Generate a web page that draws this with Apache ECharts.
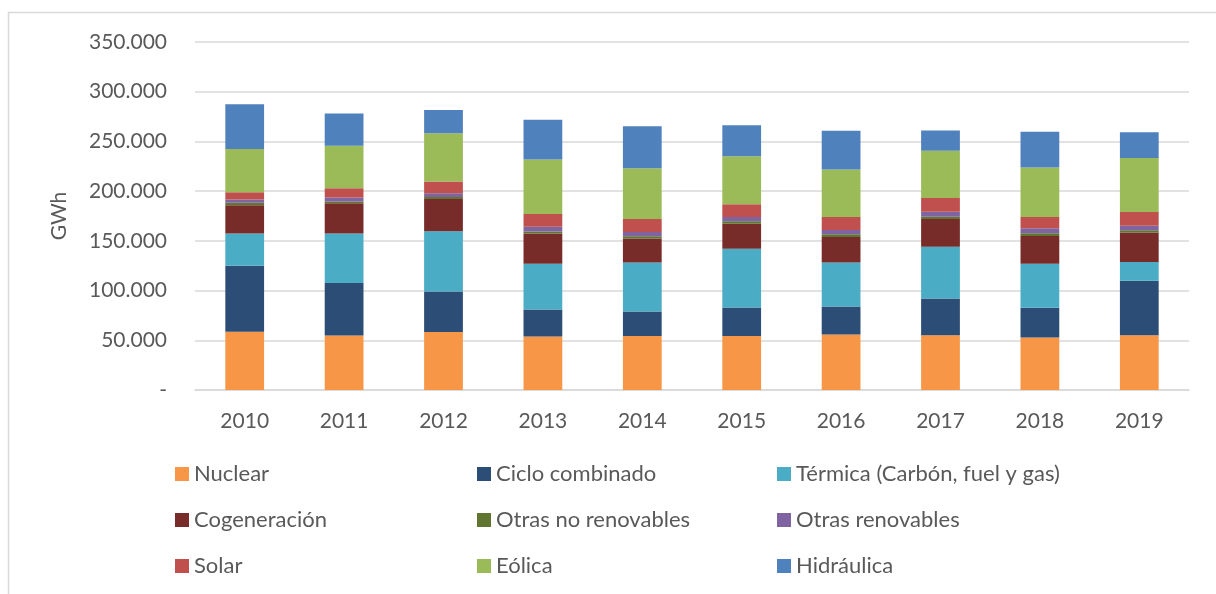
<!DOCTYPE html>
<html>
<head>
<meta charset="utf-8">
<script src="https://cdn.jsdelivr.net/npm/echarts@6/dist/echarts.min.js"></script>
<style>
  html, body { margin: 0; padding: 0; background: #fff; }
  #chart { width: 1216px; height: 594px; }
</style>
</head>
<body>
<div id="chart"></div>
<script>
// años
const years = ['2010', '2011', '2012', '2013', '2014', '2015', '2016', '2017', '2018', '2019']

// GWh por tecnología
const nuclear = [58700, 54700, 58300, 53700, 54300, 54300, 55700, 55000, 52700, 55000]
const cicloCombinado = [66300, 53000, 40700, 27300, 24700, 28700, 28300, 37000, 30000, 55000]
const termica = [32300, 49600, 60700, 46000, 49300, 59000, 44300, 52000, 44300, 18700]
const cogeneracion = [28400, 30400, 32300, 30300, 24000, 25300, 25700, 28000, 28000, 29600]
const otrasNoRenovables = [2600, 2000, 2000, 2000, 2300, 2300, 2700, 2300, 2700, 2400]
const otrasRenovables = [3400, 4000, 4000, 5000, 4300, 4300, 4300, 5000, 5000, 4600]
const solar = [7300, 9300, 11700, 12700, 13000, 13000, 13000, 13700, 11300, 13700]
const eolica = [43300, 42700, 48600, 54700, 51000, 48300, 47700, 47700, 49700, 54300]
const hidraulica = [45000, 32300, 23400, 40000, 42300, 31000, 39000, 20300, 36000, 26000]

const yTicks = [0, 50000, 100000, 150000, 200000, 250000, 300000, 350000]

const seriesList = [
  { name: 'Nuclear', data: nuclear, color: '#F79646' },
  { name: 'Ciclo combinado', data: cicloCombinado, color: '#2C4D75' },
  { name: 'Térmica (Carbón, fuel y gas)', data: termica, color: '#4BACC6' },
  { name: 'Cogeneración', data: cogeneracion, color: '#772C2A' },
  { name: 'Otras no renovables', data: otrasNoRenovables, color: '#5F7530' },
  { name: 'Otras renovables', data: otrasRenovables, color: '#8064A2' },
  { name: 'Solar', data: solar, color: '#C0504D' },
  { name: 'Eólica', data: eolica, color: '#9BBB59' },
  { name: 'Hidráulica', data: hidraulica, color: '#4F81BD' },
]

const fontFamily = 'Lato, "Open Sans", sans-serif'
const textColor = '#595959'

const fmt = (v) => {
  if (v === 0) return '-'
  return String(v).replace(/\B(?=(\d{3})+(?!\d))/g, '.')
}

// leyenda en 3 columnas
const legendCols = [
  ['Nuclear', 'Cogeneración', 'Solar'],
  ['Ciclo combinado', 'Otras no renovables', 'Eólica'],
  ['Térmica (Carbón, fuel y gas)', 'Otras renovables', 'Hidráulica'],
]
const legendLeft = [175, 477, 777]

var chartDom = document.getElementById('chart')
var myChart = echarts.init(chartDom)

const option = {
  animation: false,
  backgroundColor: '#fff',
  textStyle: { fontFamily: fontFamily },
  graphic: [
    {
      // borde del gráfico
      type: 'polyline',
      shape: { points: [[8.5, 594], [8.5, 12.5], [1216, 12.5]] },
      style: { stroke: '#d9d9d9', lineWidth: 1.5, fill: null },
    },
  ],
  legend: legendCols.map((col, i) => ({
    data: col,
    orient: 'vertical',
    left: legendLeft[i],
    top: 462,
    padding: 0,
    itemWidth: 14,
    itemHeight: 14,
    itemGap: 22,
    icon: 'rect',
    selectedMode: false,
    textStyle: { color: textColor, fontSize: 22, lineHeight: 24, fontFamily: fontFamily },
  })),
  grid: {
    left: 195,
    right: 27,
    top: 42,
    bottom: 204,
  },
  xAxis: {
    type: 'category',
    data: years,
    axisTick: { show: false },
    axisLine: { lineStyle: { color: '#d9d9d9', width: 1.5 } },
    axisLabel: { color: textColor, fontSize: 21, margin: 21, fontFamily: fontFamily },
  },
  yAxis: {
    type: 'value',
    min: yTicks[0],
    max: yTicks[yTicks.length - 1],
    interval: 50000,
    name: 'GWh',
    nameLocation: 'middle',
    nameGap: 125,
    nameTextStyle: { color: textColor, fontSize: 21, fontFamily: fontFamily },
    axisLine: { show: false },
    axisTick: { show: false },
    axisLabel: { color: textColor, fontSize: 21, margin: 28, fontFamily: fontFamily, formatter: fmt },
    splitLine: { lineStyle: { color: '#d9d9d9', width: 1.5 } },
  },
  series: seriesList.map((s) => ({
    name: s.name,
    type: 'bar',
    stack: 'total',
    barWidth: '39%',
    data: s.data,
    itemStyle: { color: s.color },
  })),
}
option && myChart.setOption(option)
</script>
</body>
</html>
